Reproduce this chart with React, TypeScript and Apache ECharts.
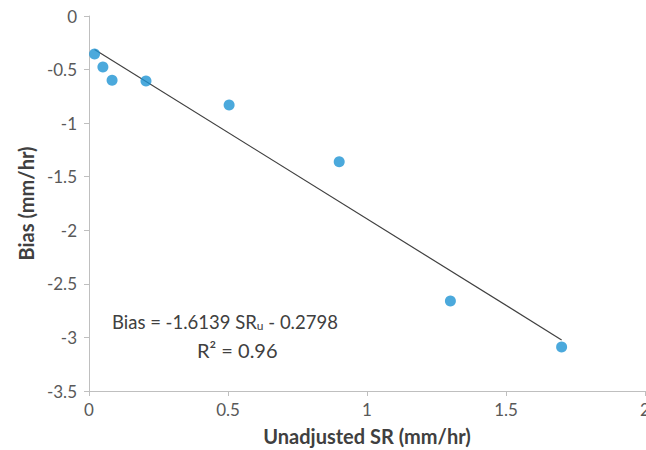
import React, { useEffect, useRef } from "react";
import * as echarts from "echarts";

const pointsX = [0.02, 0.05, 0.083, 0.205, 0.504, 0.9, 1.3, 1.7];
const pointsY = [-0.355, -0.477, -0.6, -0.607, -0.83, -1.36, -2.66, -3.09];
const trendX = [0.02, 1.7];
const trendY = [-0.312, -3.023];
const xTicks = [0, 0.5, 1, 1.5, 2];
const yTicks = [0, -0.5, -1, -1.5, -2, -2.5, -3, -3.5];

export default function App() {
  const ref = useRef<HTMLDivElement>(null);
  useEffect(() => {
    if (!ref.current) return;
    const chart = echarts.init(ref.current, null, { renderer: "svg" });
    const font = "Lato, 'Open Sans', sans-serif";
    chart.setOption({
      animation: false,
      grid: { left: 89, top: 16, right: 1, bottom: 59, containLabel: false, outerBoundsMode: "none" },
      xAxis: {
        type: "value",
        min: xTicks[0],
        max: xTicks[xTicks.length - 1],
        interval: 0.5,
        name: "Unadjusted SR (mm/hr)",
        nameLocation: "middle",
        nameGap: 35,
        nameTextStyle: { fontFamily: font, fontSize: 20, fontWeight: "bold", color: "#404040" },
        axisLine: { show: true, onZero: false, lineStyle: { color: "#bfbfbf", width: 1 } },
        axisTick: { show: true, length: 5, inside: false, lineStyle: { color: "#bfbfbf" } },
        splitLine: { show: false },
        axisLabel: { fontFamily: font, fontSize: 17, color: "#595959", margin: 10, showMaxLabel: true },
      },
      yAxis: {
        type: "value",
        min: yTicks[yTicks.length - 1],
        max: yTicks[0],
        interval: 0.5,
        name: "Bias (mm/hr)",
        nameLocation: "middle",
        nameGap: 52,
        nameTextStyle: { fontFamily: font, fontSize: 20, fontWeight: "bold", color: "#404040" },
        axisLine: { show: true, onZero: false, lineStyle: { color: "#bfbfbf", width: 1 } },
        axisTick: { show: true, length: 5, inside: false, lineStyle: { color: "#bfbfbf" } },
        splitLine: { show: false },
        axisLabel: { fontFamily: font, fontSize: 17, color: "#595959", margin: 12 },
      },
      series: [
        {
          type: "line",
          data: trendX.map((x, i) => [x, trendY[i]]),
          symbol: "none",
          lineStyle: { color: "#404040", width: 1.2 },
          z: 2,
        },
        {
          type: "scatter",
          data: pointsX.map((x, i) => [x, pointsY[i]]),
          symbolSize: 11,
          itemStyle: { color: "#1e93d3" },
          z: 3,
        },
      ],
      graphic: [
        {
          type: "text",
          left: 112,
          top: 312,
          style: {
            text: "Bias = -1.6139 SR{s|u} - 0.2798",
            font: `18.5px ${font}`,
            fill: "#404040",
            rich: {
              s: { fontSize: 12, fontFamily: font, fill: "#404040", padding: [7, 0, 0, 0] },
            },
          },
        },
        {
          type: "text",
          left: 197,
          top: 340,
          style: {
            text: "R² = 0.96",
            font: `20px ${font}`,
            fill: "#404040",
          },
        },
      ],
    });
    return () => chart.dispose();
  }, []);
  return <div ref={ref} style={{ width: 646, height: 450, position: "absolute", left: 0, top: 0 }} />;
}
